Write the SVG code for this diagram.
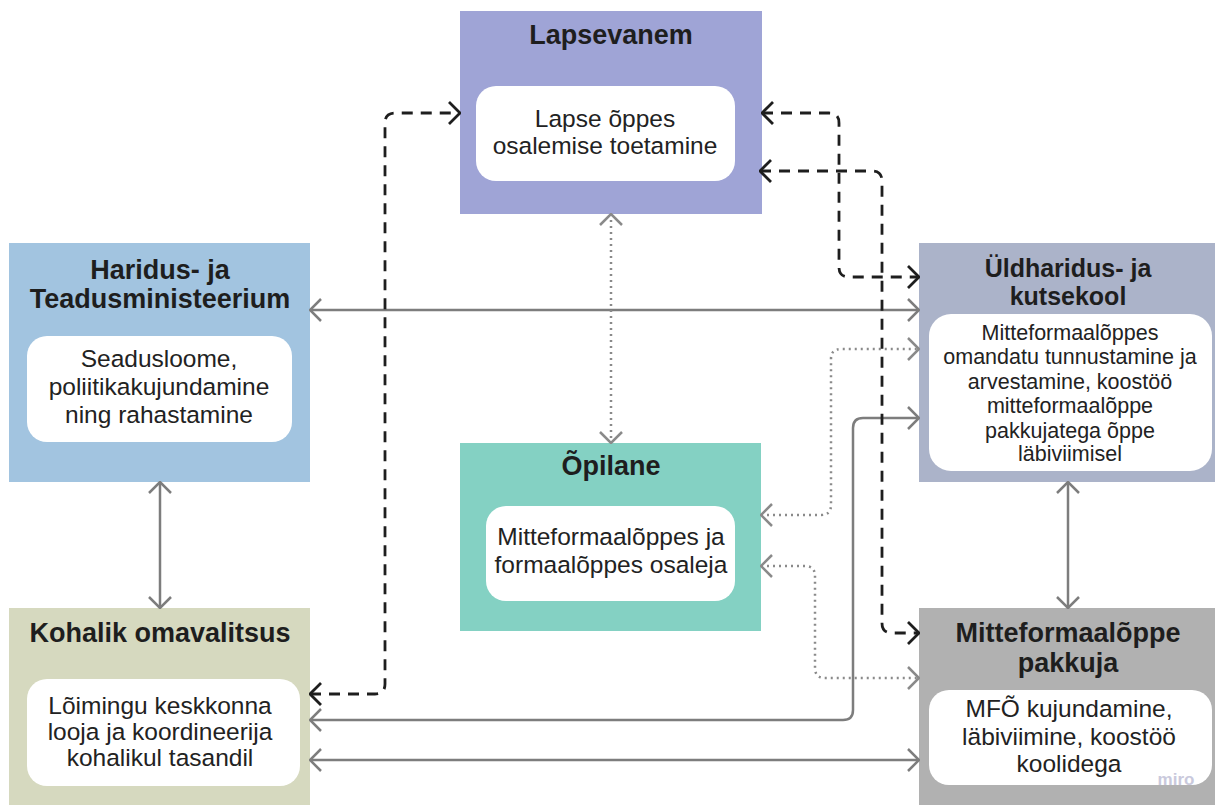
<svg xmlns="http://www.w3.org/2000/svg" width="1215" height="805" viewBox="0 0 1215 805">
<style>
.t{font-family:"Liberation Sans",Arial,sans-serif;font-weight:bold;font-size:27px;fill:#1e1e1e;text-anchor:middle}
.tk{font-size:25px}
.b{font-family:"Liberation Sans",Arial,sans-serif;font-size:24.5px;fill:#222;text-anchor:middle}
.bs{font-size:21.5px}
.in{fill:#fff}
.solid{fill:none;stroke:#7d7d7d;stroke-width:2.5}
.dash{fill:none;stroke:#1e1e1e;stroke-width:2.8;stroke-dasharray:11 8}
.dot{fill:none;stroke:#8a8a8a;stroke-width:2.5;stroke-dasharray:2 4}
.mg{fill:none;stroke:#7d7d7d;stroke-width:2.5}
.mk{fill:none;stroke:#1e1e1e;stroke-width:2.8}
.md{fill:none;stroke:#8a8a8a;stroke-width:2.5}
</style>
<defs>
<marker id="ag" viewBox="0 0 14 24" refX="13" refY="12" markerWidth="14" markerHeight="24" markerUnits="userSpaceOnUse" orient="auto-start-reverse"><path class="mg" d="M2,1 L13,12 L2,23"/></marker>
<marker id="ak" viewBox="0 0 14 24" refX="13" refY="12" markerWidth="14" markerHeight="24" markerUnits="userSpaceOnUse" orient="auto-start-reverse"><path class="mk" d="M2,1 L13,12 L2,23"/></marker>
<marker id="ad" viewBox="0 0 14 24" refX="13" refY="12" markerWidth="14" markerHeight="24" markerUnits="userSpaceOnUse" orient="auto-start-reverse"><path class="md" d="M2,1 L13,12 L2,23"/></marker>
</defs>
<rect width="1215" height="805" fill="#fff"/>

<g id="lapsevanem">
<rect x="460" y="11" width="302" height="203" fill="#9fa4d6"/>
<text class="t" x="611" y="44">Lapsevanem</text>
<rect class="in" x="476" y="86" width="259" height="95" rx="20"/>
<text class="b" x="605" y="127">Lapse õppes</text>
<text class="b" x="605" y="154">osalemise toetamine</text>
</g>

<g id="htm">
<rect x="9" y="243" width="301" height="239" fill="#a2c4e0"/>
<text class="t" x="160" y="279">Haridus- ja</text>
<text class="t" x="160" y="308">Teadusministeerium</text>
<rect class="in" x="27" y="336" width="265" height="106" rx="20"/>
<text class="b" x="159" y="367">Seadusloome,</text>
<text class="b" x="159" y="395">poliitikakujundamine</text>
<text class="b" x="159" y="423">ning rahastamine</text>
</g>

<g id="kov">
<rect x="9" y="608" width="301" height="197" fill="#d6d9bf"/>
<text class="t" x="160" y="642">Kohalik omavalitsus</text>
<rect class="in" x="27" y="679" width="273" height="107" rx="20"/>
<text class="b" x="160" y="714">Lõimingu keskkonna</text>
<text class="b" x="160" y="740">looja ja koordineerija</text>
<text class="b" x="160" y="766">kohalikul tasandil</text>
</g>

<g id="opilane">
<rect x="460" y="443" width="301" height="188" fill="#84d1c3"/>
<text class="t" x="611" y="475">Õpilane</text>
<rect class="in" x="486" y="506" width="249" height="95" rx="20"/>
<text class="b" x="611" y="545">Mitteformaalõppes ja</text>
<text class="b" x="611" y="573">formaalõppes osaleja</text>
</g>

<g id="kool">
<rect x="919" y="243" width="296" height="239" fill="#abb3c9"/>
<text class="t tk" x="1068" y="277">Üldharidus- ja</text>
<text class="t tk" x="1068" y="305">kutsekool</text>
<rect class="in" x="929" y="314" width="283" height="157" rx="22"/>
<text class="b bs" x="1070" y="340">Mitteformaalõppes</text>
<text class="b bs" x="1070" y="364">omandatu tunnustamine ja</text>
<text class="b bs" x="1070" y="389">arvestamine, koostöö</text>
<text class="b bs" x="1070" y="413">mitteformaalõppe</text>
<text class="b bs" x="1070" y="438">pakkujatega õppe</text>
<text class="b bs" x="1070" y="461">läbiviimisel</text>
</g>

<g id="pakkuja">
<rect x="919" y="608" width="296" height="197" fill="#b1b1b1"/>
<text class="t" x="1068" y="642">Mitteformaalõppe</text>
<text class="t" x="1068" y="672">pakkuja</text>
<rect class="in" x="929" y="690" width="283" height="95" rx="20"/>
<text class="b" x="1069" y="717">MFÕ kujundamine,</text>
<text class="b" x="1069" y="745">läbiviimine, koostöö</text>
<text class="b" x="1069" y="772">koolidega</text>
<text x="1176" y="785" style="font-family:'Liberation Sans',Arial,sans-serif;font-weight:bold;font-size:17px;fill:#c9c9dc;text-anchor:middle">miro</text>
</g>

<g id="connectors">
<path class="solid" d="M310,310 H919" marker-start="url(#ag)" marker-end="url(#ag)"/>
<path class="solid" d="M160,482 V608" marker-start="url(#ag)" marker-end="url(#ag)"/>
<path class="solid" d="M1068,482 V608" marker-start="url(#ag)" marker-end="url(#ag)"/>
<path class="solid" d="M310,760 H919" marker-start="url(#ag)" marker-end="url(#ag)"/>
<path class="solid" d="M919,418 H863 Q853,418 853,428 V710 Q853,720 843,720 H310" marker-start="url(#ag)" marker-end="url(#ag)"/>
<path class="dot" d="M611,214 V443" marker-start="url(#ad)" marker-end="url(#ad)"/>
<path class="dot" d="M761,515 H821 Q831,515 831,505 V359 Q831,349 841,349 H919" marker-start="url(#ad)" marker-end="url(#ad)"/>
<path class="dot" d="M761,566 H805 Q815,566 815,576 V668 Q815,678 825,678 H919" marker-start="url(#ad)" marker-end="url(#ad)"/>
<path class="dash" d="M310,694 H375 Q385,694 385,684 V123 Q385,113 395,113 H460" marker-start="url(#ak)" marker-end="url(#ak)"/>
<path class="dash" d="M762,113 H829 Q839,113 839,123 V267 Q839,277 849,277 H919" marker-start="url(#ak)" marker-end="url(#ak)"/>
<path class="dash" d="M760,171 H872 Q882,171 882,181 V623 Q882,633 892,633 H919" marker-start="url(#ak)" marker-end="url(#ak)"/>
</g>
</svg>
